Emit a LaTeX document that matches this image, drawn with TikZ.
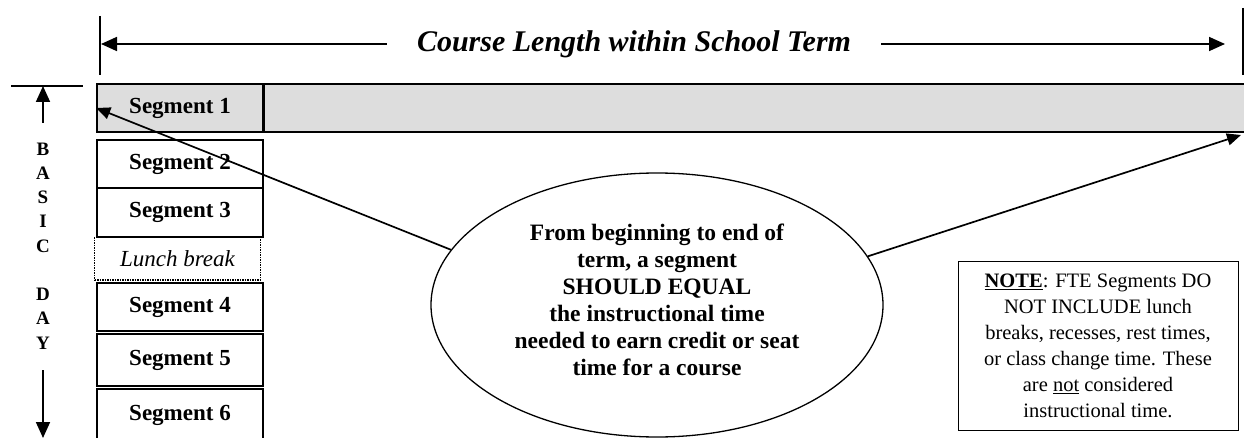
\documentclass[tikz,border=0pt]{standalone}
\usepackage{fontspec}
\setmainfont{Liberation Serif}
\usetikzlibrary{arrows.meta,shapes.geometric}
\definecolor{bargray}{RGB}{221,221,221}

\begin{document}
\begin{tikzpicture}[x=1pt,y=-1pt,
    seg/.style={draw,line width=1.5pt,minimum width=166pt,inner sep=0pt,
        font=\fontsize{23}{26}\selectfont\bfseries},
    arr/.style={line width=1.7pt,-{Triangle[length=14pt,width=12pt]}},
    bigarr/.style={line width=1.7pt,-{Triangle[length=16pt,width=14pt]}}]
        \useasboundingbox (0,0) rectangle (1244,438);

        % course length across the top
        \draw[line width=1.4pt] (100,16) -- (100,75);
        \draw[line width=1.8pt] (1243,8) -- (1243,75);
        \node[inner xsep=30pt,font=\fontsize{30}{34}\selectfont\bfseries\itshape] (title) at (634,44) {Course Length within School Term};
        \coordinate (ltip) at (101,44);
        \coordinate (rtip) at (1225,44);
        \draw[bigarr] (title.west) -- (ltip);
        \draw[bigarr] (title.east) -- (rtip);

        % basic day down the left
        \draw[line width=1.4pt] (11,86) -- (83,86);
        \coordinate (upfoot) at (43,123);
        \coordinate (uptip) at (43,86);
        \draw[bigarr] (upfoot) -- (uptip);
        \node[align=center,inner sep=0pt,font=\fontsize{19}{24.25}\selectfont\bfseries] (daylbl) at (43,246)
            {B\\A\\S\\I\\C\\~\\D\\A\\Y};
        \coordinate (downfoot) at (43,370);
        \coordinate (downtip) at (43,438);
        \draw[bigarr] (downfoot) -- (downtip);

        % the segments of the day
        \node[seg,fill=bargray,minimum height=48pt] (seg1) at (180,108) {Segment 1};
        \node[seg,fill=bargray,minimum width=990pt,minimum height=48pt,anchor=west] (termbar) at (seg1.east) {};
        \node[seg,minimum height=48pt] (seg2) at (180,164) {Segment 2};
        \node[seg,minimum height=49pt] (seg3) at (180,212.5) {Segment 3};
        \node[seg,densely dotted,line width=1.3pt,minimum height=43pt,font=\fontsize{23}{26}\selectfont\itshape] (lunch) at (177.5,258.5) {Lunch break};
        \node[seg,minimum height=48pt] (seg4) at (180,307) {Segment 4};
        \node[seg,minimum height=52pt] (seg5) at (180,360) {Segment 5};
        \node[seg,minimum height=53pt] (seg6) at (180,415.5) {Segment 6};

        % the bubble and its pointers
        \node[draw,ellipse,line width=1.3pt,minimum width=452pt,minimum height=264pt] (bubble) at (657,305) {};
        \node[align=center,font=\fontsize{23.5}{27}\selectfont\bfseries] (bubbletxt) at ([yshift=5pt]bubble.center)
            {From beginning to end of\\term, a segment\\SHOULD EQUAL\\the instructional time\\needed to earn credit or seat\\time for a course};
        \coordinate (barend) at (1241,135);
        \draw[arr] (bubble.165) -- (seg1.west);
        \draw[arr] (bubble.13) -- (barend);

        % note box
        \node[draw,line width=1pt,minimum width=280pt,minimum height=168pt,align=center,
            font=\fontsize{20.5}{26}\selectfont] (note) at (1098,346)
            {\textbf{\underline{NOTE}}:  FTE Segments DO\\NOT INCLUDE lunch\\breaks, recesses, rest times,\\or class change time.  These\\are \underline{not} considered\\instructional time.};

    \end{tikzpicture}
\end{document}
